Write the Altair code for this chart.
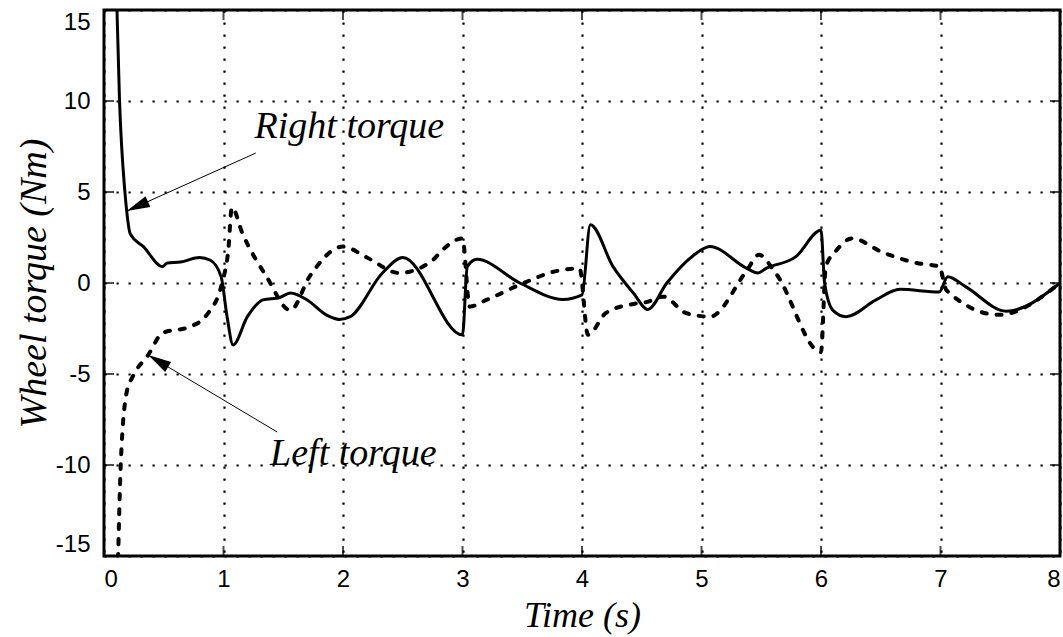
import altair as alt
import pandas as pd

# ---- data ----
right_t = [0.10, 0.13, 0.175, 0.19, 0.22, 0.33, 0.49, 0.53, 0.64, 0.80, 0.89, 0.98,
           1.03, 1.08, 1.20, 1.33, 1.47, 1.56, 1.70, 1.86, 1.97, 2.06, 2.33, 2.50,
           3.00, 3.04, 3.12, 3.48, 3.84, 4.00, 4.07, 4.26, 4.43, 4.55, 4.71, 4.93,
           5.07, 5.38, 5.47, 5.54, 5.79, 6.00, 6.03, 6.10, 6.21, 6.46, 6.66, 6.99,
           7.06, 7.21, 7.55, 8.00]
right_y = [17, 10, 5, 3.95, 2.7, 2.0, 0.9, 1.1, 1.15, 1.4, 1.25, 0.35,
           -1.85, -3.4, -1.85, -0.93, -0.8, -0.55, -0.93, -1.75, -2.0, -1.85, 0.55, 1.4,
           -2.85, 0.9, 1.3, 0.0, -0.9, -0.65, 3.2, 0.9, -0.55, -1.45, 0.0, 1.5,
           2.0, 0.8, 0.55, 0.8, 1.45, 2.9, 0.0, -1.5, -1.85, -0.93, -0.35, -0.5,
           0.35, -0.2, -1.55, 0.0]

left_t = [0.115, 0.14, 0.19, 0.24, 0.37, 0.49, 0.72, 0.86, 0.99, 1.04, 1.07, 1.16,
          1.36, 1.56, 1.72, 2.00, 2.20, 2.47, 2.75, 2.83, 3.00, 3.06, 3.20, 3.53,
          3.75, 3.98, 4.05, 4.20, 4.43, 4.54, 4.68, 4.87, 5.07, 5.38, 5.48, 5.62,
          6.00, 6.04, 6.13, 6.26, 6.51, 6.80, 6.99, 7.05, 7.49, 8.00]
left_y = [-16, -10, -6.0, -5.15, -3.95, -2.75, -2.4, -1.75, 0.05, 1.8, 4.15, 2.7,
          0.35, -1.5, 0.35, 2.0, 1.4, 0.55, 1.25, 1.8, 2.45, -1.3, -0.93, 0.05,
          0.6, 0.8, -2.85, -1.65, -1.15, -1.05, -0.75, -1.65, -1.85, 0.7, 1.55, 0.55,
          -3.8, 0.9, 1.8, 2.45, 1.7, 1.1, 0.9, -0.4, -1.75, 0.0]

x_ticks = [0, 1, 2, 3, 4, 5, 6, 7, 8]
y_ticks = [-15, -10, -5, 0, 5, 10, 15]

ann_text = ["Right torque", "Left torque"]
ann_text_t = [1.26, 1.39]
ann_text_v = [7.97, -10.0]
arrow_from_t = [1.27, 1.45]
arrow_from_v = [7.14, -8.19]
arrow_tip_t = [0.19, 0.37]
arrow_tip_v = [3.95, -3.96]
arrow_angle = [246, 301]

# ---- tables ----
right_df = pd.DataFrame({"t": right_t, "v": right_y})
left_df = pd.DataFrame({"t": left_t, "v": left_y})
ann_df = pd.DataFrame({
    "text": ann_text, "t": ann_text_t, "v": ann_text_v,
    "t0": arrow_from_t, "v0": arrow_from_v,
    "t1": arrow_tip_t, "v1": arrow_tip_v, "angle": arrow_angle,
})
inner_x = [x for x in x_ticks if 0 < x < 8]
inner_y = [y for y in y_ticks if -15 < y < 15]
xt_df = pd.DataFrame({"t": inner_x * 2, "v": [-15] * len(inner_x) + [15] * len(inner_x)})
yt_df = pd.DataFrame({"t": [0] * len(inner_y) + [8] * len(inner_y), "v": inner_y * 2})

xs = alt.Scale(domain=[0, 8], nice=False, zero=False)
ys = alt.Scale(domain=[-15, 15], nice=False, zero=False)

x_axis = alt.Axis(values=x_ticks, title="Time (s)", labelFlush=True,
                  labelPadding=11, titleX=478, titleY=70, titleFontSize=36,
                  titleBaseline="alphabetic", labelExpr="'' + datum.value")
y_axis = alt.Axis(values=y_ticks, title="Wheel torque (Nm)", labelFlush=True,
                  labelPadding=14, titleX=-59, titleY=273, titleAngle=270,
                  titleAlign="center", titleBaseline="alphabetic",
                  labelExpr="'' + datum.value")


def X(field):
    return alt.X(field, type="quantitative", scale=xs, axis=x_axis)


def Y(field):
    return alt.Y(field, type="quantitative", scale=ys, axis=y_axis)


right_line = alt.Chart(right_df).mark_line(
    color="black", strokeWidth=3, clip=True, interpolate="monotone"
).encode(x=X("t"), y=Y("v"))

left_line = alt.Chart(left_df).mark_line(
    color="black", strokeWidth=4, strokeDash=[5, 10], strokeCap="round",
    clip=True, interpolate="monotone"
).encode(x=X("t"), y=Y("v"))

xticks_layer = alt.Chart(xt_df).mark_tick(
    color="black", thickness=2, size=20, orient="vertical", clip=True
).encode(x=X("t"), y=Y("v"))

yticks_layer = alt.Chart(yt_df).mark_tick(
    color="black", thickness=2, size=20, orient="horizontal", clip=True
).encode(x=X("t"), y=Y("v"))

arrows = alt.Chart(ann_df).mark_rule(color="black", strokeWidth=1).encode(
    x=X("t0"), y=Y("v0"), x2="t1:Q", y2="v1:Q",
)

heads = alt.Chart(ann_df).mark_point(
    shape="M0,0L0.5,2L-0.5,2Z", filled=True, color="black", opacity=1, size=540
).encode(
    x=X("t1"), y=Y("v1"),
    angle=alt.Angle("angle:Q", scale=None),
)

labels = alt.Chart(ann_df).mark_text(
    font="Liberation Serif", fontStyle="italic", fontSize=38, color="black",
    align="left", baseline="alphabetic"
).encode(x=X("t"), y=Y("v"), text="text:N")

chart = alt.layer(
    right_line, left_line, xticks_layer, yticks_layer, arrows, heads, labels
).properties(
    width=956, height=546,
    autosize=alt.AutoSizeParams(type="none"),
    padding={"left": 104, "top": 10, "right": 3, "bottom": 81},
    background="white",
).configure_view(
    stroke="black", strokeWidth=3
).configure_axis(
    grid=True, gridColor="black", gridDash=[2.2, 9.8], gridWidth=2.2, gridOpacity=1,
    domain=False, ticks=False, tickSize=0,
    labelFont="Liberation Sans", labelFontSize=24, labelColor="black",
    titleFont="Liberation Serif", titleFontStyle="italic", titleFontWeight="normal",
    titleFontSize=38, titleColor="black",
)

chart.save("out.html", embed_options={"renderer": "svg", "actions": False})
